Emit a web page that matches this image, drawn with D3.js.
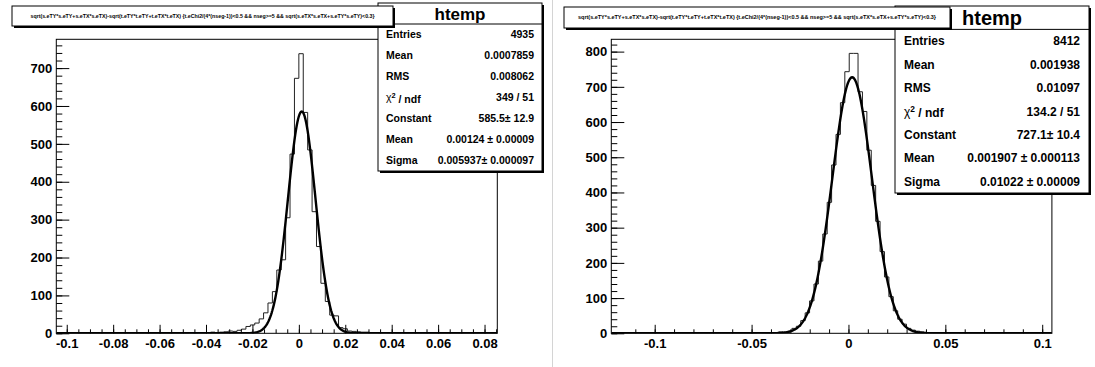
<!DOCTYPE html>
<html>
<head>
<meta charset="utf-8">
<script src="https://cdn.jsdelivr.net/npm/d3@7"></script>
<style>
  body { margin: 0; background: #fff; }
  svg { display: block; font-family: "Liberation Sans", Arial, Helvetica, sans-serif; font-weight: bold; }
</style>
</head>
<body>
<svg id="canvas" width="1095" height="367"></svg>
<script>
const titleText = "sqrt(s.eTY*s.eTY+s.eTX*s.eTX)-sqrt(t.eTY*t.eTY+t.eTX*t.eTX) {t.eChi2/(4*(nseg-1))<0.5 && nseg>=5 && sqrt(s.eTX*s.eTX+s.eTY*s.eTY)<0.3}";
const histName = "htemp";

const statLabels = ["Entries", "Mean", "RMS", "chi2", "Constant", "Mean", "Sigma"];
const leftStats = ["4935", "0.0007859", "0.008062", "349 / 51", "585.5\u00b1 12.9", "0.00124 \u00b1 0.00009", "0.005937\u00b1 0.000097"];
const rightStats = ["8412", "0.001938", "0.01097", "134.2 / 51", "727.1\u00b1 10.4", "0.001907 \u00b1 0.000113", "0.01022 \u00b1 0.00009"];

// gaus fit parameters: constant, mean, sigma
const leftFit = [585.5, 0.00124, 0.005937];
const rightFit = [727.1, 0.001907, 0.01022];

// histogram x ranges (100 bins each) and y maximum
const leftRange = [-0.1045, 0.0855];
const rightRange = [-0.1224, 0.1050];
const leftYMax = 776;
const rightYMax = 835;

const leftCounts = [
  0, 0, 0, 0, 0, 0, 0, 0, 0, 0,
  0, 0, 0, 0, 0, 0, 0, 0, 0, 0,
  0, 0, 0, 0, 0, 0, 0, 0, 0, 0,
  1, 0, 1, 1, 2, 3, 2, 3, 4, 6,
  5, 8, 11, 18, 22, 27, 38, 54, 80, 110,
  167, 194, 305, 473, 673, 738, 583, 484, 321, 229,
  132, 84, 48, 46, 15, 12, 6, 5, 4, 3,
  3, 2, 2, 1, 2, 1, 1, 0, 1, 0,
  0, 0, 0, 0, 0, 0, 0, 0, 0, 0,
  0, 0, 0, 0, 0, 0, 0, 0, 0, 0
];
const rightCounts = [
  0, 0, 0, 0, 0, 0, 0, 0, 0, 0,
  0, 0, 0, 0, 0, 0, 0, 0, 0, 0,
  0, 0, 0, 0, 0, 0, 0, 0, 0, 0,
  0, 0, 0, 2, 1, 0, 1, 2, 4, 3,
  6, 14, 20, 36, 58, 92, 140, 205, 282, 372,
  478, 565, 655, 743, 795, 795, 686, 630, 520, 420,
  318, 232, 160, 104, 64, 40, 26, 14, 9, 6,
  4, 2, 2, 1, 1, 0, 0, 1, 1, 0,
  0, 0, 0, 0, 0, 0, 0, 0, 0, 0,
  0, 0, 0, 0, 0, 0, 0, 0, 0, 0
];

const leftXTicks = [-0.1, -0.08, -0.06, -0.04, -0.02, 0, 0.02, 0.04, 0.06, 0.08];
const leftXMinor = d3.range(-100, 86, 5).map(d => d / 1000);
const rightXTicks = [-0.1, -0.05, 0, 0.05, 0.1];
const rightXMinor = d3.range(-11, 11, 1).map(d => d / 100);
const leftYTicks = [0, 100, 200, 300, 400, 500, 600, 700];
const rightYTicks = [0, 100, 200, 300, 400, 500, 600, 700, 800];

const svg = d3.select("#canvas");
const fmt = d => String(d);

// pad separator
svg.append("line")
  .attr("x1", 552.5).attr("x2", 552.5)
  .attr("y1", 0).attr("y2", 367)
  .attr("stroke", "#d4d4d4");

function shadowBox(g, x, y, w, h) {
  g.append("rect").attr("x", x + 2).attr("y", y + 2).attr("width", w).attr("height", h).attr("fill", "#000");
  g.append("rect").attr("x", x).attr("y", y).attr("width", w).attr("height", h)
    .attr("fill", "#fff").attr("stroke", "#000").attr("stroke-width", 1);
}

function drawPanel(p) {
  const g = svg.append("g");
  const x = d3.scaleLinear().domain(p.range).range([p.fx0, p.fx1]);
  const y = d3.scaleLinear().domain([0, p.yMax]).range([333.3, 39.3]);

  const clipId = "clip" + p.id;
  g.append("clipPath").attr("id", clipId)
    .append("rect")
    .attr("x", p.fx0).attr("y", 39.3)
    .attr("width", p.fx1 - p.fx0).attr("height", 294);

  // histogram outline
  const n = p.counts.length;
  const bw = (p.range[1] - p.range[0]) / n;
  const pts = p.counts.map((v, i) => [p.range[0] + i * bw, v]);
  pts.push([p.range[1], p.counts[n - 1]]);
  g.append("path")
    .datum(pts)
    .attr("clip-path", `url(#${clipId})`)
    .attr("fill", "none")
    .attr("stroke", "#222")
    .attr("stroke-width", 1)
    .attr("d", d3.line().x(d => x(d[0])).y(d => y(d[1])).curve(d3.curveStepAfter));

  // fitted gaussian
  const [c, m, s] = p.fit;
  const fx = d3.range(0, 601).map(i => p.range[0] + i * (p.range[1] - p.range[0]) / 600);
  g.append("path")
    .datum(fx)
    .attr("clip-path", `url(#${clipId})`)
    .attr("fill", "none")
    .attr("stroke", "#000")
    .attr("stroke-width", 2.4)
    .attr("d", d3.line().x(d => x(d)).y(d => y(c * Math.exp(-0.5 * ((d - m) / s) ** 2))));

  // frame
  g.append("rect")
    .attr("x", p.fx0).attr("y", 39.3)
    .attr("width", p.fx1 - p.fx0).attr("height", 294)
    .attr("fill", "none").attr("stroke", "#000");

  // x axis: minor then major, ticks pointing inward
  g.append("g").attr("transform", "translate(0,333.3)")
    .call(d3.axisBottom(x).tickValues(p.xMinor).tickSize(-4).tickFormat(""))
    .call(a => a.select(".domain").remove());
  g.append("g").attr("transform", "translate(0,333.3)")
    .call(d3.axisBottom(x).tickValues(p.xTicks).tickSize(-8.5).tickPadding(5).tickFormat(fmt))
    .call(a => a.select(".domain").remove())
    .call(a => a.selectAll("text").attr("font-size", 13).attr("font-weight", "bold").attr("font-family", null).attr("fill", "#000"));

  // y axis
  g.append("g").attr("transform", `translate(${p.fx0},0)`)
    .call(d3.axisLeft(y).tickValues(d3.range(0, p.yMax, 20)).tickSize(-6).tickFormat(""))
    .call(a => a.select(".domain").remove());
  g.append("g").attr("transform", `translate(${p.fx0},0)`)
    .call(d3.axisLeft(y).tickValues(p.yTicks).tickSize(-13).tickPadding(4).tickFormat(fmt))
    .call(a => a.select(".domain").remove())
    .call(a => a.selectAll("text").attr("font-size", 13).attr("font-weight", "bold").attr("font-family", null).attr("fill", "#000"));

  // stats box
  const sb = p.stats;
  shadowBox(g, sb.x, sb.y, sb.w, sb.h);
  const rowH = sb.h / (statLabels.length + 1);
  g.append("line")
    .attr("x1", sb.x).attr("x2", sb.x + sb.w)
    .attr("y1", sb.y + rowH).attr("y2", sb.y + rowH)
    .attr("stroke", "#000");
  g.append("text")
    .attr("x", sb.x + sb.w / 2).attr("y", sb.y + rowH / 2)
    .attr("dy", "0.36em").attr("text-anchor", "middle")
    .attr("font-size", sb.head)
    .text(histName);
  statLabels.forEach((lab, i) => {
    const cy = sb.y + rowH * (i + 1.5);
    const t = g.append("text")
      .attr("x", sb.x + sb.pad).attr("y", cy).attr("dy", "0.36em")
      .attr("font-size", sb.font);
    if (lab === "chi2") {
      t.append("tspan").attr("font-weight", "normal").text("\u03c7");
      t.append("tspan").attr("dy", "-0.45em").attr("font-size", sb.font * 0.7).text("2");
      t.append("tspan").attr("dy", "0.45em").text(" / ndf");
    } else {
      t.text(lab);
    }
    g.append("text")
      .attr("x", sb.x + sb.w - sb.pad).attr("y", cy).attr("dy", "0.36em")
      .attr("text-anchor", "end")
      .attr("font-size", sb.font)
      .text(p.values[i]);
  });

  // title box, drawn over the stats box
  const tb = p.title;
  shadowBox(g, tb.x, tb.y, tb.w, tb.h);
  g.append("text")
    .attr("x", tb.x + tb.w / 2).attr("y", tb.y + tb.h / 2)
    .attr("dy", "0.36em").attr("text-anchor", "middle")
    .attr("font-size", 5)
    .attr("textLength", tb.tl).attr("lengthAdjust", "spacingAndGlyphs")
    .text(titleText);
}

drawPanel({
  id: "L", range: leftRange, fx0: 56.3, fx1: 497.3, yMax: leftYMax,
  counts: leftCounts, fit: leftFit, values: leftStats,
  xTicks: leftXTicks, xMinor: leftXMinor, yTicks: leftYTicks,
  stats: { x: 378, y: 3, w: 164, h: 168, font: 10.5, head: 17, pad: 8 },
  title: { x: 12, y: 6, w: 381, h: 20, tl: 344 }
});

drawPanel({
  id: "R", range: rightRange, fx0: 611.3, fx1: 1051.9, yMax: rightYMax,
  counts: rightCounts, fit: rightFit, values: rightStats,
  xTicks: rightXTicks, xMinor: rightXMinor, yTicks: rightYTicks,
  stats: { x: 895, y: 6, w: 194, h: 187, font: 12, head: 20, pad: 9 },
  title: { x: 564, y: 7, w: 386, h: 21, tl: 358 }
});
</script>
</body>
</html>
